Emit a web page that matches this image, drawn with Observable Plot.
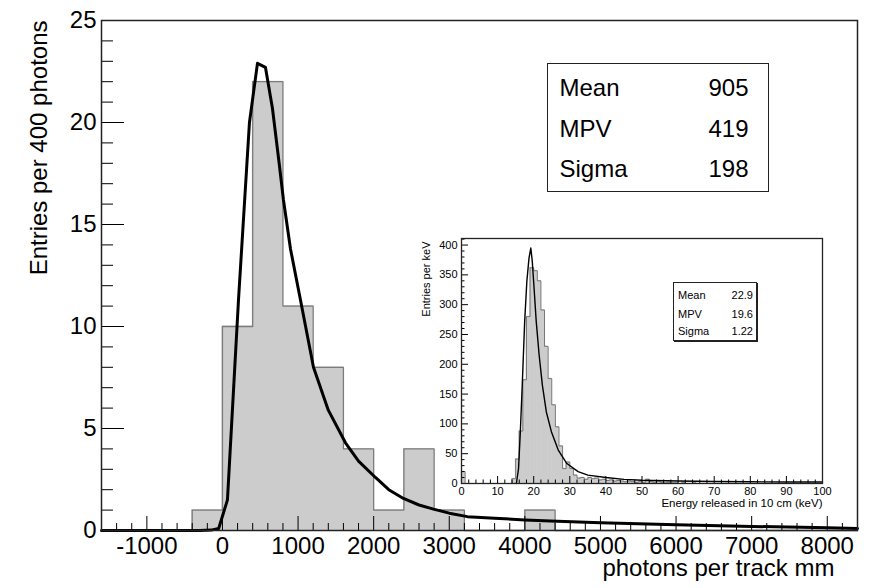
<!DOCTYPE html>
<html><head><meta charset="utf-8">
<script src="https://cdn.jsdelivr.net/npm/d3@7"></script>
<script src="https://cdn.jsdelivr.net/npm/@observablehq/plot@0.6"></script>
<style>
html,body{margin:0;padding:0;background:#fff;}
#wrap{position:relative;width:883px;height:588px;overflow:hidden;font-family:"Liberation Sans",Arial,Helvetica,sans-serif;}
#main,#inset{position:absolute;}
#main{left:0;top:0;}
#inset{left:400px;top:225px;}
.stats{position:absolute;background:#fff;box-sizing:border-box;color:#000;}
.stats span{position:absolute;white-space:nowrap;}
</style></head><body>
<div id="wrap"><div id="main"></div><div id="inset"></div>
<div class="stats" id="stMain" style="left:547px;top:63px;width:222px;height:129px;border:1.5px solid #222;font-size:24px;line-height:24px;"></div>
<div class="stats" id="stInset" style="left:673px;top:282px;width:84px;height:59px;border:1px solid #222;box-shadow:1px 1px 0 #222;font-size:11px;line-height:11px;"></div>
</div>
<script>
// ---- main histogram (photons per track mm, 400-photon bins)
const mainBinLow = [-1600,-1200,-800,-400,0,400,800,1200,1600,2000,2400,2800,3200,3600,4000,4400,4800,5200,5600,6000,6400,6800,7200,7600,8000];
const mainCounts = [0,0,0,1,10,22,11,8,4,1,4,1,0,0,1,0,0,0,0,0,0,0,0,0,0];
const mainBinWidth = 400;
// ---- main Landau fit
const mainFitX = [-1600,-300,-150,-50,66,212,357,463,569,661,750,807,900,1032,1204,1400,1627,1800,2024,2200,2394,2600,2791,3000,3240,3600,4000,4339,5000,6000,7000,8000,8400];
const mainFitY = [0,0,0.02,0.1,1.5,11.3,20.0,22.9,22.7,20.7,18.0,16.2,13.8,11.3,8.0,5.9,4.3,3.4,2.6,2.0,1.57,1.25,1.05,0.85,0.68,0.6,0.52,0.47,0.38,0.28,0.2,0.13,0.1];
const mainXTicks = [-1000,0,1000,2000,3000,4000,5000,6000,7000,8000];
const mainYTicks = [0,5,10,15,20,25];
const mainStats = [["Mean","905"],["MPV","419"],["Sigma","198"]];

// ---- inset histogram (energy released in 10 cm, 1 keV bins, 0..100)
const insetCounts = [20,0,0,0,0,0,0,0,0,0, 0,0,0,0,8,41,88,174,280,362, 357,340,291,230,176,132,95,63,25,36, 25,14,9,10,7,10,8,9,6,7, 5,6,4,5,4,3,4,3,2,3, 2,7,3,2,4,2,1,2,1,1, 0,1,0,0,1,0,0,0,0,0, 0,0,0,0,0,0,0,0,0,0, 0,0,0,0,0,0,0,0,0,0, 0,0,0,0,0,0,0,0,0,0];
const insetFitX = [15.2,15.8,16.3,16.9,17.5,18.1,18.7,19.2,19.6,20.1,20.7,21.5,22.4,23.5,24.9,26.8,29.1,32.3,35,40,45,50,60,70,80,90,100];
const insetFitY = [0,25,87,176,272,339,378,395,373,328,272,216,165,120,87,56,34,20,14,10,7,5.5,4.2,3.4,2.9,2.6,2.4];
const insetXTicks = [0,10,20,30,40,50,60,70,80,90,100];
const insetYTicks = [0,50,100,150,200,250,300,350,400];
const insetStats = [["Mean","22.9"],["MPV","19.6"],["Sigma","1.22"]];

const FONT = "'Liberation Sans', Arial, Helvetica, sans-serif";

// ---------- main plot
{
  const W = 883, H = 588, mL = 101, mR = 26, mT = 20, mB = 58;
  const innerW = W - mL - mR, innerH = H - mT - mB;
  const bins = mainBinLow.map((x, i) => ({x1: x, x2: x + mainBinWidth, y: mainCounts[i]}));
  const step = bins.map(b => ({x: b.x1, y: b.y}));
  step.push({x: bins[bins.length-1].x2, y: bins[bins.length-1].y});
  const fit = mainFitX.map((x, i) => ({x, y: mainFitY[i]}));
  const xMinor = d3.range(-1600, 8400 + 1, 200).filter(v => v % 1000 !== 0 && v > -1600 && v < 8400);
  const yMinor = d3.range(1, 25).filter(v => v % 5 !== 0);
  const svg = Plot.plot({
    width: W, height: H, marginLeft: mL, marginRight: mR, marginTop: mT, marginBottom: mB,
    style: {fontFamily: FONT, fontSize: "24px", background: "transparent", color: "#000", overflow: "visible"},
    x: {domain: [-1600, 8400], ticks: mainXTicks, tickSize: 0, tickPadding: 6, tickFormat: d => String(d), label: null},
    y: {domain: [0, 25], ticks: mainYTicks, tickSize: 0, tickPadding: 5, tickFormat: d => String(d), label: null},
    marks: [
      Plot.rectY(bins.filter(b => b.y > 0), {x1: "x1", x2: "x2", y: "y", fill: "#cccccc", stroke: "#cccccc", strokeWidth: 0.8}),
      Plot.line(step, {x: "x", y: "y", curve: "step-after", stroke: "#7c7c7c", strokeWidth: 1.3}),
      Plot.ruleX(xMinor, {x: d => d, insetTop: innerH - 7, stroke: "#000", strokeWidth: 1}),
      Plot.ruleX(mainXTicks, {x: d => d, insetTop: innerH - 14, stroke: "#000", strokeWidth: 1}),
      Plot.ruleY(yMinor, {y: d => d, insetRight: innerW - 12, stroke: "#000", strokeWidth: 1}),
      Plot.ruleY(mainYTicks, {y: d => d, insetRight: innerW - 23, stroke: "#000", strokeWidth: 1}),
      Plot.line(fit, {x: "x", y: "y", stroke: "#000", strokeWidth: 3}),
      Plot.frame({stroke: "#222", strokeWidth: 1.5}),
      Plot.text(["photons per track mm"], {frameAnchor: "bottom-right", textAnchor: "end", dx: -23, dy: 45, fontSize: 24}),
      Plot.text(["Entries per 400 photons"], {frameAnchor: "top-left", textAnchor: "end", rotate: -90, dx: -72, dy: 0, fontSize: 24})
    ]
  });
  document.getElementById("main").appendChild(svg);
}

// ---------- inset plot
{
  const W = 430, H = 290, mL = 61, mR = 8, mT = 13, mB = 32;
  const innerW = W - mL - mR, innerH = H - mT - mB;
  const bins = insetCounts.map((c, i) => ({x1: i, x2: i + 1, y: c}));
  const step = bins.map(b => ({x: b.x1, y: b.y}));
  step.push({x: 100, y: insetCounts[99]});
  const fit = insetFitX.map((x, i) => ({x, y: insetFitY[i]}));
  const xMinor = d3.range(2, 100, 2).filter(v => v % 10 !== 0);
  const yMinor = d3.range(10, 411, 10).filter(v => v % 50 !== 0);
  const svg = Plot.plot({
    width: W, height: H, marginLeft: mL, marginRight: mR, marginTop: mT, marginBottom: mB,
    style: {fontFamily: FONT, fontSize: "11px", background: "transparent", color: "#000", overflow: "visible"},
    x: {domain: [0, 100], ticks: insetXTicks, tickSize: 0, tickPadding: 4, tickFormat: d => String(d), label: null},
    y: {domain: [0, 411], ticks: insetYTicks, tickSize: 0, tickPadding: 4, tickFormat: d => String(d), label: null},
    marks: [
      Plot.rectY(bins.filter(b => b.y > 0), {x1: "x1", x2: "x2", y: "y", fill: "#cccccc", stroke: "#cccccc", strokeWidth: 0.6}),
      Plot.line(step, {x: "x", y: "y", curve: "step-after", stroke: "#777", strokeWidth: 1}),
      Plot.ruleX(xMinor, {x: d => d, insetTop: innerH - 3.5, stroke: "#000", strokeWidth: 1}),
      Plot.ruleX(insetXTicks, {x: d => d, insetTop: innerH - 7, stroke: "#000", strokeWidth: 1}),
      Plot.ruleY(yMinor, {y: d => d, insetRight: innerW - 3.5, stroke: "#000", strokeWidth: 1}),
      Plot.ruleY(insetYTicks, {y: d => d, insetRight: innerW - 7, stroke: "#000", strokeWidth: 1}),
      Plot.line(fit, {x: "x", y: "y", stroke: "#000", strokeWidth: 1.4}),
      Plot.frame({stroke: "#222", strokeWidth: 1.3}),
      Plot.text(["Energy released in 10 cm (keV)"], {frameAnchor: "bottom-right", textAnchor: "end", dy: 23, fontSize: 11.5}),
      Plot.text(["Entries per keV"], {frameAnchor: "top-left", textAnchor: "end", rotate: -90, dx: -39, dy: 3, fontSize: 11})
    ]
  });
  document.getElementById("inset").appendChild(svg);
}

// ---------- stats boxes
function fillStats(id, rows, tops, leftPad, rightPad) {
  const box = document.getElementById(id);
  rows.forEach((r, i) => {
    const a = document.createElement("span");
    a.textContent = r[0]; a.style.left = leftPad + "px"; a.style.top = tops[i] + "px";
    const b = document.createElement("span");
    b.textContent = r[1]; b.style.right = rightPad + "px"; b.style.top = tops[i] + "px";
    box.appendChild(a); box.appendChild(b);
  });
}
fillStats("stMain", mainStats, [12, 53, 93], 11.5, 19.5);
fillStats("stInset", insetStats, [7, 26, 43], 4, 3);
</script>
</body></html>
